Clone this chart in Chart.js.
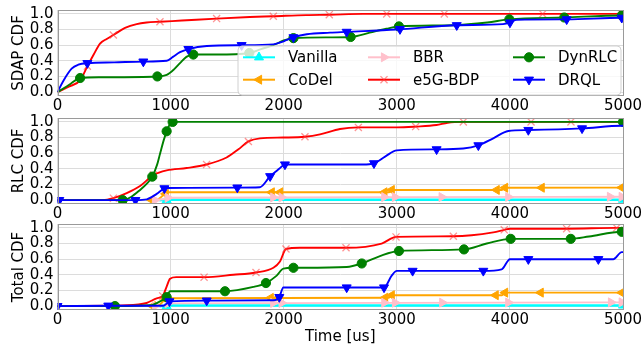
<!DOCTYPE html>
<html><head><meta charset="utf-8">
<script src="https://cdn.jsdelivr.net/npm/chart.js@4/dist/chart.umd.min.js"></script>
<style>
html,body{margin:0;padding:0;background:#fff;}
#wrap{position:relative;width:644px;height:352px;overflow:hidden;background:#fff;}
canvas{position:absolute;left:0;}
</style></head><body>
<div id="wrap"><canvas id="c1"></canvas><canvas id="c2"></canvas><canvas id="c3"></canvas></div>
<script>
// ---------- axis ticks ----------
const xTicks = [0, 1000, 2000, 3000, 4000, 5000];
const yTicks = [0, 0.2, 0.4, 0.6, 0.8, 1.0];
const seriesNames = ['Vanilla', 'CoDel', 'BBR', 'e5G-BDP', 'DynRLC', 'DRQL'];
const panelTitles = ['SDAP CDF', 'RLC CDF', 'Total CDF'];
const xTitle = 'Time [us]';

// ---------- SDAP CDF ----------
const sdap_e5g_t = [0, 100, 200, 264, 320, 376, 435, 494, 597, 700, 788, 906, 1100, 1407, 1700, 1908, 2200, 2410, 2700, 3000, 5000];
const sdap_e5g_v = [0, 0.07, 0.15, 0.33, 0.48, 0.62, 0.68, 0.73, 0.82, 0.87, 0.89, 0.90, 0.915, 0.94, 0.96, 0.97, 0.985, 0.99, 1.0, 1.0, 1.0];
const sdap_e5g_mt = [264, 494, 906, 1407, 1908, 2403, 2911, 3420, 4290, 4989];
const sdap_e5g_mv = [0.33, 0.73, 0.90, 0.94, 0.97, 0.99, 1.0, 1.0, 1.0, 1.0];

const sdap_dyn_t = [0, 100, 200, 376, 883, 966, 1030, 1083, 1140, 1201, 1407, 1696, 1800, 1908, 2000, 2086, 2410, 2592, 2760, 2907, 3019, 3500, 3800, 3995, 4481, 4989, 5000];
const sdap_dyn_v = [0, 0.09, 0.18, 0.19, 0.20, 0.22, 0.29, 0.37, 0.45, 0.48, 0.48, 0.50, 0.55, 0.60, 0.66, 0.69, 0.70, 0.705, 0.76, 0.81, 0.84, 0.855, 0.89, 0.93, 0.954, 0.98, 0.98];
const sdap_dyn_mt = [200, 883, 1201, 1696, 2086, 2592, 3019, 3995, 4481, 4989];
const sdap_dyn_mv = [0.18, 0.20, 0.48, 0.50, 0.69, 0.705, 0.84, 0.93, 0.954, 0.98];

const sdap_drql_t = [0, 50, 125, 184, 264, 500, 759, 966, 1020, 1083, 1157, 1320, 1628, 1908, 2000, 2086, 2204, 2410, 2557, 2999, 3530, 3940, 4001, 4060, 4502, 4989, 5000];
const sdap_drql_v = [0, 0.14, 0.30, 0.35, 0.37, 0.38, 0.39, 0.40, 0.45, 0.51, 0.55, 0.59, 0.60, 0.61, 0.65, 0.70, 0.74, 0.76, 0.77, 0.80, 0.855, 0.87, 0.89, 0.925, 0.93, 0.95, 0.95];
const sdap_drql_mt = [264, 759, 1157, 1628, 2086, 2557, 3028, 3530, 4001, 4502, 4989];
const sdap_drql_mv = [0.37, 0.39, 0.55, 0.60, 0.70, 0.77, 0.805, 0.855, 0.89, 0.93, 0.95];

// ---------- RLC CDF ----------
const rlc_van_t = [900, 960, 5000];
const rlc_van_v = [0, 0.005, 0.005];
const rlc_van_mt = [965, 5000];
const rlc_van_mv = [0, 0.005];

const rlc_codel_t = [833, 900, 940, 975, 2930, 2955, 3930, 3957, 5000];
const rlc_codel_v = [0, 0.02, 0.07, 0.10, 0.10, 0.13, 0.13, 0.158, 0.16];
const rlc_codel_mt = [833, 957, 1894, 1968, 2890, 2955, 3883, 3957, 4281, 4989];
const rlc_codel_mv = [0, 0.08, 0.10, 0.10, 0.10, 0.13, 0.13, 0.158, 0.158, 0.16];

const rlc_bbr_t = [850, 930, 985, 3000, 5000];
const rlc_bbr_v = [0, 0.01, 0.03, 0.038, 0.042];
const rlc_bbr_mt = [862, 975, 1908, 1982, 2890, 2984, 3397, 3986, 4885, 4989];
const rlc_bbr_mv = [0, 0.03, 0.034, 0.034, 0.038, 0.038, 0.039, 0.04, 0.042, 0.042];

const rlc_e5g_t = [0, 400, 494, 612, 730, 848, 965, 1142, 1318, 1495, 1600, 1688, 1790, 1996, 2188, 2321, 2498, 2660, 3000, 3167, 3351, 3450, 3588, 5000];
const rlc_e5g_v = [0, 0, 0.025, 0.09, 0.18, 0.32, 0.38, 0.41, 0.455, 0.545, 0.65, 0.75, 0.79, 0.80, 0.81, 0.84, 0.91, 0.93, 0.93, 0.94, 0.96, 0.99, 1.0, 1.0];
const rlc_e5g_mt = [494, 848, 1318, 1688, 2188, 2660, 3167, 3588, 4187, 4540];
const rlc_e5g_mv = [0.025, 0.32, 0.455, 0.75, 0.81, 0.93, 0.94, 1.0, 1.0, 1.0];

const rlc_dyn_t = [0, 576, 650, 730, 790, 838, 880, 906, 940, 965, 990, 1018, 5000];
const rlc_dyn_v = [0, 0, 0.04, 0.13, 0.21, 0.30, 0.45, 0.59, 0.77, 0.88, 0.96, 1.0, 1.0];
const rlc_dyn_mt = [576, 838, 965, 1018, 5000];
const rlc_dyn_mv = [0, 0.30, 0.88, 1.0, 1.0];

const rlc_drql_t = [0, 689, 790, 877, 945, 965, 1590, 1790, 1880, 1960, 2011, 2086, 2700, 2798, 2900, 3000, 3352, 3587, 3721, 3853, 3986, 4163, 4638, 4989, 5000];
const rlc_drql_v = [0, 0, 0.01, 0.08, 0.15, 0.155, 0.16, 0.165, 0.305, 0.40, 0.455, 0.455, 0.455, 0.47, 0.56, 0.636, 0.649, 0.66, 0.70, 0.79, 0.884, 0.896, 0.917, 0.95, 0.95];
const rlc_drql_mt = [16, 689, 945, 1590, 1880, 2011, 2798, 3352, 3721, 4163, 4638];
const rlc_drql_mv = [0, 0, 0.15, 0.16, 0.305, 0.455, 0.47, 0.649, 0.70, 0.896, 0.917];

// ---------- Total CDF ----------
const tot_van_t = [900, 960, 5000];
const tot_van_v = [0, 0.008, 0.008];
const tot_van_mt = [965, 5000];
const tot_van_mv = [0, 0.008];

const tot_codel_t = [842, 906, 965, 2930, 2955, 3930, 3957, 5000];
const tot_codel_v = [0, 0.02, 0.10, 0.107, 0.139, 0.139, 0.172, 0.172];
const tot_codel_mt = [842, 957, 1885, 1950, 2896, 2955, 3874, 3957, 4272, 4989];
const tot_codel_mv = [0, 0.09, 0.105, 0.105, 0.107, 0.139, 0.139, 0.172, 0.172, 0.172];

const tot_bbr_t = [850, 940, 990, 5000];
const tot_bbr_v = [0, 0.01, 0.035, 0.048];
const tot_bbr_mt = [862, 975, 1908, 1982, 2890, 2984, 3402, 3986, 4894, 4989];
const tot_bbr_mv = [0, 0.035, 0.04, 0.04, 0.043, 0.043, 0.044, 0.045, 0.048, 0.048];

const tot_e5g_t = [0, 612, 788, 877, 930, 965, 995, 1050, 1296, 1555, 1755, 1909, 1967, 2020, 2144, 2551, 2866, 2993, 3500, 3853, 3950, 4000, 4502, 4944, 5000];
const tot_e5g_v = [0, 0.01, 0.04, 0.10, 0.13, 0.25, 0.35, 0.37, 0.37, 0.40, 0.43, 0.49, 0.57, 0.73, 0.746, 0.746, 0.80, 0.885, 0.893, 0.943, 0.975, 0.99, 0.99, 1.0, 1.0];
const tot_e5g_mt = [930, 1296, 1755, 2020, 2551, 2993, 3500, 3950, 4502, 4944];
const tot_e5g_mv = [0.13, 0.37, 0.43, 0.73, 0.746, 0.885, 0.893, 0.975, 0.99, 1.0];

const tot_dyn_t = [0, 508, 818, 906, 965, 995, 1100, 1481, 1732, 1843, 1938, 1997, 2086, 2557, 2690, 2851, 3019, 3594, 3795, 4007, 4538, 4700, 4989, 5000];
const tot_dyn_v = [0, 0, 0.01, 0.06, 0.115, 0.19, 0.19, 0.19, 0.245, 0.295, 0.39, 0.48, 0.49, 0.50, 0.545, 0.64, 0.705, 0.725, 0.80, 0.86, 0.86, 0.89, 0.95, 0.95];
const tot_dyn_mt = [508, 965, 1481, 1843, 2086, 2690, 3019, 3594, 4007, 4538, 4989];
const tot_dyn_mv = [0, 0.115, 0.19, 0.295, 0.49, 0.545, 0.705, 0.725, 0.86, 0.86, 0.95];

const tot_drql_t = [0, 449, 936, 980, 990, 1319, 1909, 1961, 1997, 2557, 2887, 2955, 3000, 3765, 3927, 4000, 4782, 4914, 4989, 5000];
const tot_drql_v = [0, 0.005, 0.005, 0.05, 0.06, 0.07, 0.074, 0.115, 0.238, 0.238, 0.238, 0.39, 0.45, 0.45, 0.47, 0.60, 0.60, 0.60, 0.69, 0.69];
const tot_drql_mt = [0, 449, 990, 1319, 1961, 2557, 2887, 3140, 3765, 4163, 4782];
const tot_drql_mv = [0, 0.005, 0.06, 0.07, 0.115, 0.238, 0.238, 0.45, 0.45, 0.60, 0.60];

// ---------- styles ----------
const FONT = '"DejaVu Sans", sans-serif';
const GRID = '#dcdcdc';
const FRAME = '#9a9a9a';
const STYLE = [
  {color: '#00ffff', mark: 'triangle', rot: 0,   r: 5.2, mcolor: '#00ffff', lw: 2.6},
  {color: '#ffa500', mark: 'triangle', rot: 270, r: 5.2, mcolor: '#ffa500', lw: 1.9},
  {color: '#ffc0cb', mark: 'triangle', rot: 90,  r: 5.2, mcolor: '#ffc0cb', lw: 1.9},
  {color: '#ff0000', mark: 'crossRot', rot: 0,   r: 5,   mcolor: 'rgba(255,60,60,0.55)', lw: 1.9},
  {color: '#008000', mark: 'circle',   rot: 0,   r: 4.6, mcolor: '#008000', lw: 1.9},
  {color: '#0000ff', mark: 'triangle', rot: 180, r: 5.2, mcolor: '#0000ff', lw: 1.9}
];

function pts(t, v) { return t.map((x, i) => ({x: x, y: v[i]})); }

function seriesDatasets(s, t, v, mt, mv) {
  const st = STYLE[s];
  return [
    {label: seriesNames[s], data: pts(t, v), borderColor: st.color, borderWidth: st.lw,
     pointRadius: 0, cubicInterpolationMode: 'monotone', fill: false, clip: 0, order: (6 - s) * 2},
    {label: seriesNames[s] + ' markers', data: pts(mt, mv), showLine: false,
     pointStyle: st.mark, pointRotation: st.rot, pointRadius: st.r,
     pointBackgroundColor: st.mcolor, pointBorderColor: st.mcolor,
     pointBorderWidth: st.mark === 'crossRot' ? 1.3 : 1, clip: 0, order: (6 - s) * 2 - 1}
  ];
}

const panel1 = [].concat(
  seriesDatasets(3, sdap_e5g_t, sdap_e5g_v, sdap_e5g_mt, sdap_e5g_mv),
  seriesDatasets(4, sdap_dyn_t, sdap_dyn_v, sdap_dyn_mt, sdap_dyn_mv),
  seriesDatasets(5, sdap_drql_t, sdap_drql_v, sdap_drql_mt, sdap_drql_mv));
const panel2 = [].concat(
  seriesDatasets(0, rlc_van_t, rlc_van_v, rlc_van_mt, rlc_van_mv),
  seriesDatasets(1, rlc_codel_t, rlc_codel_v, rlc_codel_mt, rlc_codel_mv),
  seriesDatasets(2, rlc_bbr_t, rlc_bbr_v, rlc_bbr_mt, rlc_bbr_mv),
  seriesDatasets(3, rlc_e5g_t, rlc_e5g_v, rlc_e5g_mt, rlc_e5g_mv),
  seriesDatasets(4, rlc_dyn_t, rlc_dyn_v, rlc_dyn_mt, rlc_dyn_mv),
  seriesDatasets(5, rlc_drql_t, rlc_drql_v, rlc_drql_mt, rlc_drql_mv));
const panel3 = [].concat(
  seriesDatasets(0, tot_van_t, tot_van_v, tot_van_mt, tot_van_mv),
  seriesDatasets(1, tot_codel_t, tot_codel_v, tot_codel_mt, tot_codel_mv),
  seriesDatasets(2, tot_bbr_t, tot_bbr_v, tot_bbr_mt, tot_bbr_mv),
  seriesDatasets(3, tot_e5g_t, tot_e5g_v, tot_e5g_mt, tot_e5g_mv),
  seriesDatasets(4, tot_dyn_t, tot_dyn_v, tot_dyn_mt, tot_dyn_mv),
  seriesDatasets(5, tot_drql_t, tot_drql_v, tot_drql_mt, tot_drql_mv));

const framePlugin = {
  id: 'frame',
  afterDatasetsDraw(chart) {
    const a = chart.chartArea, ctx = chart.ctx;
    ctx.save();
    ctx.strokeStyle = FRAME; ctx.lineWidth = 1;
    ctx.strokeRect(Math.round(a.left) + 0.5, Math.round(a.top) + 0.5,
                   Math.round(a.right - a.left) - 1, Math.round(a.bottom - a.top) - 1);
    ctx.restore();
  }
};

const legendPlugin = {
  id: 'boxLegend',
  afterDraw(chart) {
    const ctx = chart.ctx;
    const off = chart.chartArea.top - 7; // canvas y minus page y
    ctx.save();
    const bx = 238, by = 43 + off, bw = 383, bh = 49, r = 4;
    ctx.beginPath();
    ctx.moveTo(bx + r, by); ctx.lineTo(bx + bw - r, by); ctx.arcTo(bx + bw, by, bx + bw, by + r, r);
    ctx.lineTo(bx + bw, by + bh - r); ctx.arcTo(bx + bw, by + bh, bx + bw - r, by + bh, r);
    ctx.lineTo(bx + r, by + bh); ctx.arcTo(bx, by + bh, bx, by + bh - r, r);
    ctx.lineTo(bx, by + r); ctx.arcTo(bx, by, bx + r, by, r); ctx.closePath();
    ctx.fillStyle = 'rgba(255,255,255,0.8)'; ctx.fill();
    ctx.strokeStyle = '#d0d0d0'; ctx.lineWidth = 1; ctx.stroke();
    const colX = [243, 368, 513];
    const rowY = [54.3 + off, 76.7 + off];
    ctx.font = '15px ' + FONT; ctx.textBaseline = 'middle'; ctx.textAlign = 'left';
    for (let s = 0; s < 6; s++) {
      const c = Math.floor(s / 2), rr = s % 2;
      const x0 = colX[c], y = rowY[rr], st = STYLE[s];
      ctx.strokeStyle = st.color; ctx.lineWidth = 2;
      ctx.beginPath(); ctx.moveTo(x0, y); ctx.lineTo(x0 + 32, y); ctx.stroke();
      ctx.fillStyle = st.mcolor; ctx.strokeStyle = st.mcolor;
      ctx.lineWidth = st.mark === 'crossRot' ? 1.3 : 1;
      Chart.helpers.drawPoint(ctx, {pointStyle: st.mark, rotation: st.rot, radius: st.r, borderWidth: ctx.lineWidth}, x0 + 16, y);
      ctx.fillStyle = '#000';
      ctx.fillText(seriesNames[s], x0 + 45, y + 1);
    }
    ctx.restore();
  }
};

function makeChart(id, pageTop, height, xAxisH, yTitle, datasets, showXTitle, extra) {
  const cv = document.getElementById(id);
  cv.width = 644; cv.height = height; cv.style.top = (pageTop - 10) + 'px';
  cv.style.width = '644px'; cv.style.height = height + 'px';
  return new Chart(cv.getContext('2d'), {
    type: 'line',
    data: {datasets: datasets},
    options: {
      responsive: false, animation: false, events: [], devicePixelRatio: 1,
      layout: {padding: {top: 10, right: 21, bottom: 0, left: 0}},
      plugins: {legend: {display: false}, tooltip: {enabled: false}},
      scales: {
        x: {
          type: 'linear', min: 0, max: 5000,
          afterBuildTicks: s => { s.ticks = xTicks.map(v => ({value: v})); },
          afterFit: s => { s.height = xAxisH; },
          grid: {color: GRID, lineWidth: 1, drawTicks: false},
          border: {display: false},
          ticks: {font: {family: FONT, size: 15}, color: '#000', padding: 1, maxRotation: 0, autoSkip: false,
                  callback: v => String(v)},
          title: {display: showXTitle, text: xTitle, font: {family: FONT, size: 15}, color: '#000',
                  padding: {top: 0, bottom: 6}}
        },
        y: {
          type: 'linear', min: -0.05, max: 1.05,
          afterBuildTicks: s => { s.ticks = yTicks.map(v => ({value: v})); },
          afterFit: s => { s.width = 57.5; },
          grid: {color: GRID, lineWidth: 1, drawTicks: false},
          border: {display: false},
          ticks: {font: {family: FONT, size: 15}, color: '#000', padding: 4, autoSkip: false,
                  callback: v => v.toFixed(1)},
          title: {display: true, text: yTitle, font: {family: FONT, size: 15}, color: '#000',
                  padding: {top: 10, bottom: 0}}
        }
      }
    },
    plugins: [framePlugin].concat(extra)
  });
}

makeChart('c1', 7, 121, 22, panelTitles[0], panel1, false, [legendPlugin]);
makeChart('c2', 114.5, 121, 22, panelTitles[1], panel2, false, []);
makeChart('c3', 221, 141, 42, panelTitles[2], panel3, true, []);
</script>
</body></html>
